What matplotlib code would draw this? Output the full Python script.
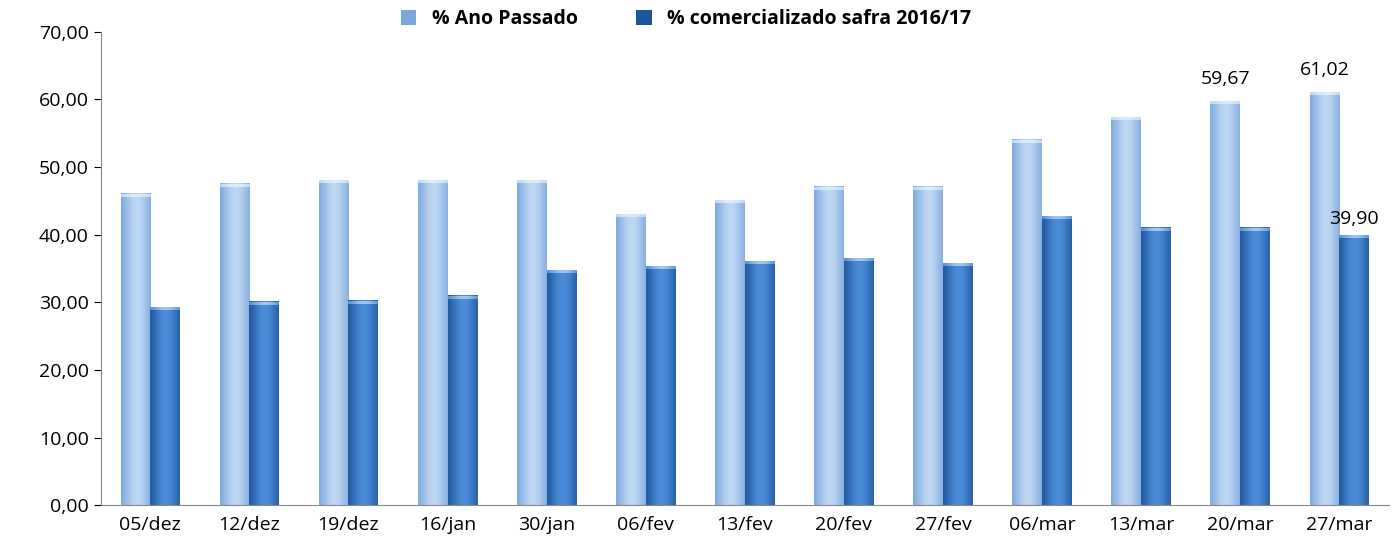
import numpy as np
import matplotlib
matplotlib.use('Agg')
from matplotlib import pyplot as plt
from matplotlib.patches import Patch

categories = ['05/dez', '12/dez', '19/dez', '16/jan', '30/jan', '06/fev', '13/fev',
              '20/fev', '27/fev', '06/mar', '13/mar', '20/mar', '27/mar']
ano_passado = [46.0, 47.5, 48.0, 48.0, 48.0, 43.0, 45.0, 47.0, 47.0, 54.0, 57.3, 59.67, 61.02]
safra_2016 = [29.2, 30.0, 30.2, 30.9, 34.7, 35.3, 36.0, 36.5, 35.7, 42.7, 41.0, 41.0, 39.90]
labels_light = {11: '59,67', 12: '61,02'}
labels_dark = {12: '39,90'}

plt.rcParams['font.family'] = ['Open Sans', 'DejaVu Sans']

fig = plt.figure(figsize=(14, 5.54), dpi=100)
ax = fig.add_axes([0.072, 0.088, 0.92, 0.855])

light_dark = np.array([0x7a, 0xa6, 0xdc]) / 255
light_hi = np.array([0xbd, 0xd7, 0xf2]) / 255
dark_dark = np.array([0x1f, 0x55, 0x9c]) / 255
dark_hi = np.array([0x4a, 0x8c, 0xd8]) / 255


def gradient(c_lo, c_hi):
    t = np.linspace(0, 1, 64)
    s = np.sin(np.pi * (0.1 + 0.75 * t)) ** 2
    return (c_lo[None, :] + (c_hi - c_lo)[None, :] * s[:, None])[None, :, :]


w = 0.3
x = np.arange(len(categories))
for xs, vals, lo, hi in [(x - w, ano_passado, light_dark, light_hi),
                         (x, safra_2016, dark_dark, dark_hi)]:
    bars = ax.bar(xs, vals, width=w, align='edge', color='none', edgecolor='none')
    img = gradient(lo, hi)
    for b in bars:
        x0, y0, bw, bh = b.get_x(), b.get_y(), b.get_width(), b.get_height()
        ax.imshow(img, extent=[x0, x0 + bw, y0, y0 + bh], aspect='auto', zorder=2)
        top = gradient(hi, hi * 0.5 + 0.5)
        ax.imshow(top, extent=[x0, x0 + bw, y0 + bh - 0.4, y0 + bh], aspect='auto', zorder=3)

for i, t in labels_light.items():
    ax.text(i - w / 2, ano_passado[i] + 2, t, ha='center', va='bottom', fontsize=14)
for i, t in labels_dark.items():
    ax.text(i + w / 2, safra_2016[i] + 1.0, t, ha='center', va='bottom', fontsize=14)

ax.set_xlim(-0.5, len(categories) - 0.5)
ax.set_ylim(0, 70)
ax.set_yticks(np.arange(0, 71, 10))
ax.set_yticklabels([f'{v:.2f}'.replace('.', ',') for v in np.arange(0, 71, 10)], fontsize=14)
ax.set_xticks(x)
ax.set_xticklabels(categories, fontsize=14)
ax.tick_params(axis='x', length=0, pad=8)
ax.tick_params(axis='y', length=5, direction='out')
for s in ['top', 'right']:
    ax.spines[s].set_visible(False)
ax.spines['left'].set_color('#888888')
ax.spines['bottom'].set_color('#888888')

handles = [Patch(facecolor=light_dark, edgecolor='none'), Patch(facecolor=dark_dark, edgecolor='none')]
fig.legend(handles, ['% Ano Passado', '% comercializado safra 2016/17'], loc='upper center',
           bbox_to_anchor=(0.49, 1.015), ncol=2, frameon=False, prop={'weight': 'bold', 'size': 14},
           handlelength=0.8, handleheight=0.8, columnspacing=3)

fig.savefig('out.png')
